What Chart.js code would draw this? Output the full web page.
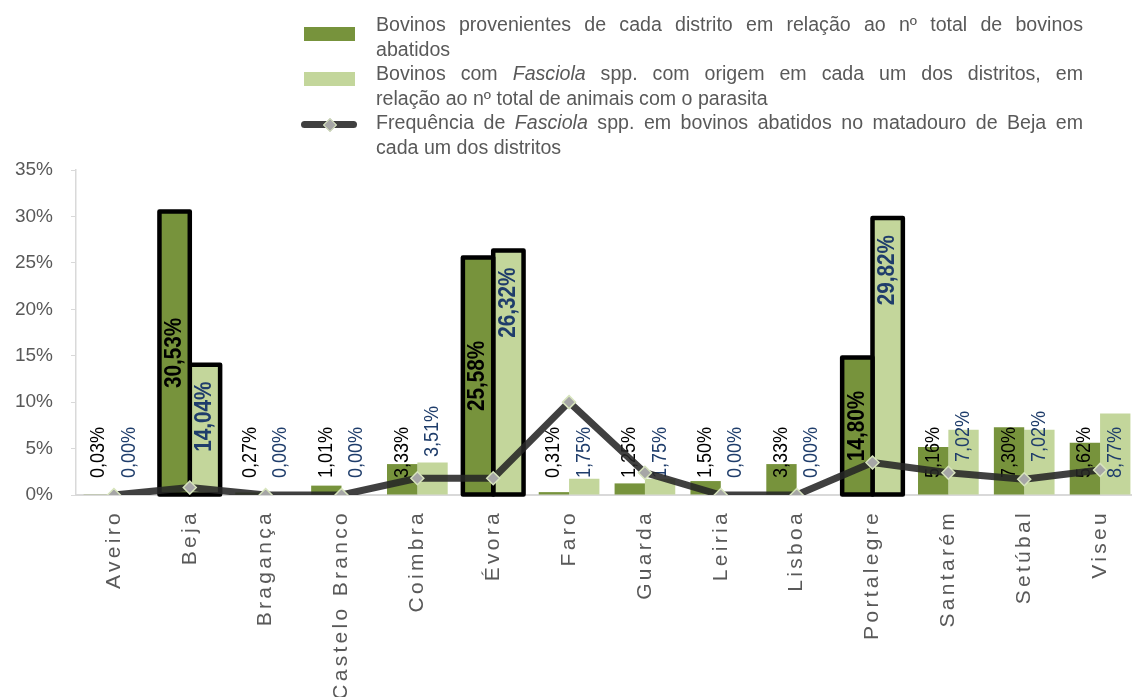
<!DOCTYPE html>
<html>
<head>
<meta charset="utf-8">
<script src="https://cdn.jsdelivr.net/npm/chart.js@4.4.1/dist/chart.umd.min.js"></script>
<style>
  html, body { margin: 0; padding: 0; background: #fff; overflow: hidden; width: 1132px; height: 697px; }
  #wrap { position: relative; width: 1146px; height: 697px; }
  #chart { position: absolute; left: 0; top: 0; }
  #legend { position: absolute; left: 376px; top: 12px; width: 707px;
    font-family: 'Liberation Sans', Arial, sans-serif; font-size: 19.6px; line-height: 24.6px; color: #595959; }
  #legend .j { text-align: justify; text-align-last: justify; }
  .sw { position: absolute; }
</style>
</head>
<body>
<div id="wrap">
  <canvas id="chart" width="1146" height="697"></canvas>
  <div class="sw" style="left:304px;top:27px;width:51px;height:14px;background:#77933C"></div>
  <div class="sw" style="left:304px;top:72px;width:51px;height:14px;background:#C3D69B"></div>
  <div class="sw" style="left:301px;top:121px;width:56px;height:7px;background:#404040;border-radius:3.5px"></div>
  <div class="sw" style="left:325px;top:119.5px;width:10px;height:10px;background:#A6A6A6;border:1.5px solid #D7E4BD;box-sizing:border-box;transform:rotate(45deg)"></div>
  <div id="legend"></div>
</div>
<script>
// ---- data ----
const categories = ['Aveiro','Beja','Bragança','Castelo Branco','Coimbra','Évora','Faro','Guarda','Leiria','Lisboa','Portalegre','Santarém','Setúbal','Viseu'];
const bovinosPct   = [0.03, 30.53, 0.27, 1.01, 3.33, 25.58, 0.31, 1.25, 1.50, 3.33, 14.80, 5.16, 7.30, 5.62];
const fasciolaPct  = [0.00, 14.04, 0.00, 0.00, 3.51, 26.32, 1.75, 1.75, 0.00, 0.00, 29.82, 7.02, 7.02, 8.77];
const frequenciaPct = [0.0, 0.8, 0.0, 0.0, 1.8, 1.8, 10.0, 2.4, 0.0, 0.0, 3.5, 2.4, 1.7, 2.7];
const yTicks = [0, 5, 10, 15, 20, 25, 30, 35];
const highlighted = ['Beja', 'Évora', 'Portalegre'];
const legendLines = [
  ['Bovinos provenientes de cada distrito em relação ao nº total de bovinos', 'abatidos'],
  ['Bovinos com <i>Fasciola</i> spp. com origem em cada um dos distritos, em', 'relação ao nº total de animais com o parasita'],
  ['Frequência de <i>Fasciola</i> spp. em bovinos abatidos no matadouro de Beja em', 'cada um dos distritos']
];

// ---- legend (HTML) ----
document.getElementById('legend').innerHTML = legendLines.map(l =>
  '<div class="j">' + l[0] + '</div><div>' + l[1] + '</div>').join('');

const LABEL_FONT = "'Liberation Sans', Arial, sans-serif";
const AXIS_FONT = "'Liberation Sans', Arial, sans-serif";
const fmt = v => v.toFixed(2).replace('.', ',') + '%';

const barLabels = {
  id: 'barLabels',
  afterDatasetDraw(chart, args) {
    const ds = chart.data.datasets[args.index];
    if (ds.type === 'line') return;
    const ctx = chart.ctx;
    const zeroY = chart.scales.y.getPixelForValue(0);
    args.meta.data.forEach((bar, i) => {
      const big = highlighted.includes(categories[i]);
      const p = bar.getProps(['x', 'y', 'base', 'width'], true);
      if (big) {
        ctx.save();
        ctx.strokeStyle = '#000';
        ctx.lineWidth = 4.5;
        ctx.lineJoin = 'round';
        ctx.strokeRect(p.x - p.width / 2, p.y, p.width, p.base - p.y);
        ctx.restore();
      }
      ctx.save();
      ctx.fillStyle = ds.labelColor;
      ctx.textBaseline = 'middle';
      let ay, align;
      if (big) {
        ctx.font = 'bold 23px ' + LABEL_FONT;
        if (ds.bigLabelPos === 'center') { ay = (p.y + p.base) / 2; align = 'center'; }
        else { ay = p.y + 17; align = 'right'; }
      } else {
        ctx.font = '20px ' + LABEL_FONT;
        ay = zeroY - ((ds.smallLift && ds.smallLift[categories[i]]) || 17);
        align = 'left';
      }
      ctx.translate(p.x, ay);
      ctx.rotate(-Math.PI / 2);
      ctx.scale(0.9, 1);
      ctx.textAlign = align;
      ctx.fillText(fmt(ds.data[i]), 0, 0);
      ctx.restore();
    });
  }
};

const xLabels = {
  id: 'xLabels',
  afterDraw(chart) {
    const ctx = chart.ctx;
    const xs = chart.scales.x;
    const top = chart.chartArea.bottom + 15;
    categories.forEach((c, i) => {
      ctx.save();
      ctx.font = '21px ' + AXIS_FONT;
      ctx.letterSpacing = '3.3px';
      ctx.fillStyle = '#595959';
      ctx.textBaseline = 'middle';
      ctx.textAlign = 'right';
      ctx.translate(xs.getPixelForValue(i), top);
      ctx.rotate(-Math.PI / 2);
      ctx.fillText(c, 0, 0);
      ctx.restore();
    });
  }
};

new Chart(document.getElementById('chart'), {
  data: {
    labels: categories,
    datasets: [
      {
        type: 'line',
        label: 'Frequência de Fasciola spp. em bovinos abatidos no matadouro de Beja em cada um dos distritos',
        data: frequenciaPct,
        borderColor: 'rgba(38,38,38,0.88)',
        borderWidth: 7,
        borderJoinStyle: 'round',
        borderCapStyle: 'round',
        tension: 0,
        pointStyle: 'rectRot',
        pointRadius: 6.5,
        pointHoverRadius: 6.5,
        pointBackgroundColor: '#A6A6A6',
        pointBorderColor: '#D7E4BD',
        pointBorderWidth: 1.5
      },
      {
        type: 'bar',
        label: 'Bovinos provenientes de cada distrito em relação ao nº total de bovinos abatidos',
        data: bovinosPct,
        backgroundColor: '#77933C',
        borderWidth: 0,
        categoryPercentage: 0.8,
        barPercentage: 1.0,
        labelColor: '#000000',
        bigLabelPos: 'center'
      },
      {
        type: 'bar',
        label: 'Bovinos com Fasciola spp. com origem em cada um dos distritos, em relação ao nº total de animais com o parasita',
        data: fasciolaPct,
        backgroundColor: '#C3D69B',
        borderWidth: 0,
        categoryPercentage: 0.8,
        barPercentage: 1.0,
        labelColor: '#1F3D6B',
        bigLabelPos: 'end',
        smallLift: { 'Coimbra': 38, 'Santarém': 33, 'Setúbal': 33 }
      }
    ]
  },
  options: {
    responsive: false,
    devicePixelRatio: 1,
    animation: false,
    layout: { padding: { left: 0, right: 4.6, top: 170, bottom: 0 } },
    plugins: { legend: { display: false }, tooltip: { enabled: false } },
    scales: {
      x: {
        grid: { display: false },
        border: { display: true, color: '#D9D9D9', width: 2 },
        ticks: { display: false },
        afterFit: s => { s.height = 202; }
      },
      y: {
        min: 0, max: 35,
        afterBuildTicks: s => { s.ticks = yTicks.map(v => ({ value: v })); },
        grid: { drawOnChartArea: false, drawTicks: true, tickLength: 5, color: '#D9D9D9' },
        border: { display: true, color: '#D9D9D9', width: 1.5 },
        ticks: {
          padding: 18,
          color: '#595959',
          font: { family: AXIS_FONT, size: 19 },
          callback: v => v + '%'
        },
        afterFit: s => { s.width = 76; }
      }
    }
  },
  plugins: [barLabels, xLabels]
});
</script>
</body>
</html>
